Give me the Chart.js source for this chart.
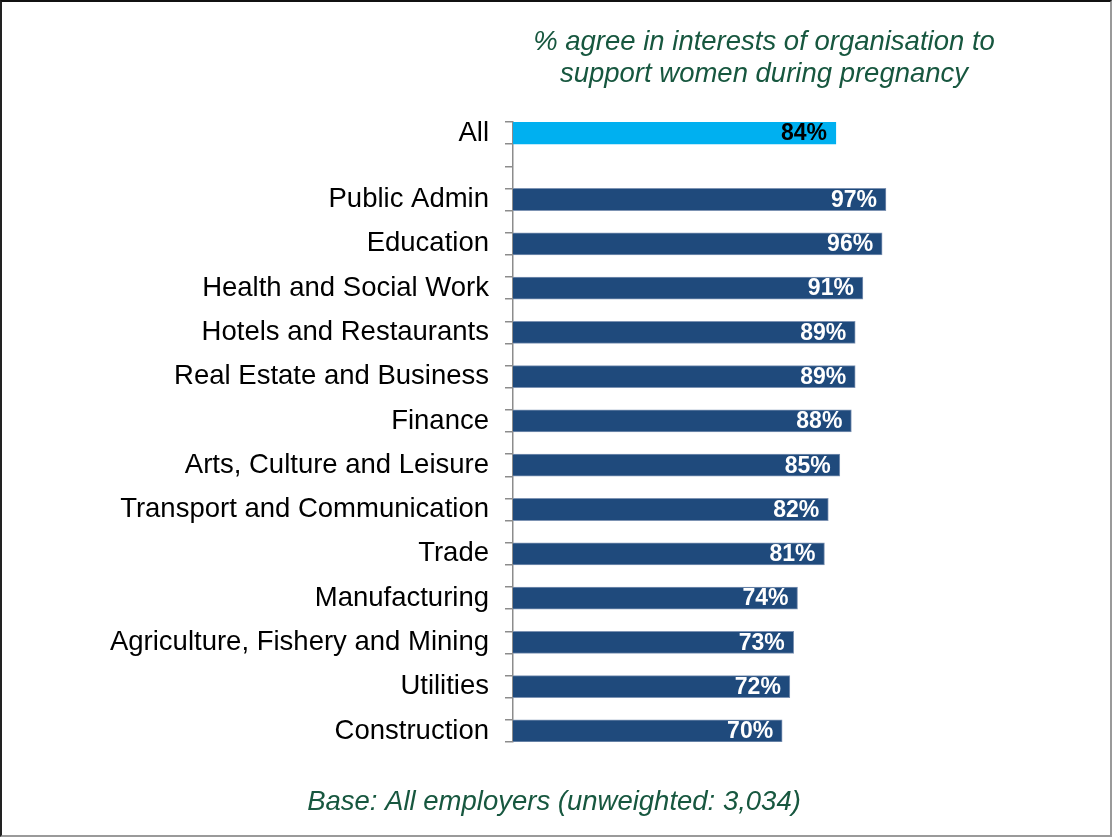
<!DOCTYPE html>
<html>
<head>
<meta charset="utf-8">
<script src="https://cdn.jsdelivr.net/npm/chart.js@4.4.1/dist/chart.umd.min.js"></script>
<style>
html,body{margin:0;padding:0;background:#fff;}
#wrap{position:relative;width:1112px;height:837px;}
#c{position:absolute;left:0;top:0;}
#frame{position:absolute;left:0;top:0;width:1112px;height:837px;box-sizing:border-box;
  border-top:2px solid #111;border-left:2px solid #222;border-right:2px solid #9a9a9a;border-bottom:2px solid #9a9a9a;pointer-events:none;}
</style>
</head>
<body>
<div id="wrap"><canvas id="c" width="1112" height="837"></canvas><div id="frame"></div></div>
<script>
// ---- data ----
const categories = ['All', 'Public Admin', 'Education', 'Health and Social Work', 'Hotels and Restaurants',
  'Real Estate and Business', 'Finance', 'Arts, Culture and Leisure', 'Transport and Communication',
  'Trade', 'Manufacturing', 'Agriculture, Fishery and Mining', 'Utilities', 'Construction'];
const values = [84, 97, 96, 91, 89, 89, 88, 85, 82, 81, 74, 73, 72, 70];
const titleLines = ['% agree in interests of organisation to', 'support women during pregnancy'];
const footnote = 'Base: All employers (unweighted: 3,034)';

// ---- build slot table (blank spacer rows as in the original) ----
const labels = [];
const data = [];
categories.forEach((c, i) => {
  if (i === 1) { labels.push('', ''); data.push(null, null); }
  else if (i > 1) { labels.push(''); data.push(null); }
  labels.push(c); data.push(values[i]);
});
const fills = labels.map(l => l === 'All' ? '#00B0F0' : '#1F4A7C');
const borders = labels.map(l => l === 'All' ? '#00B0F0' : '#7D93B3');

const FONT = '"Liberation Sans", Arial, sans-serif';

const textPlugin = {
  id: 'textPlugin',
  afterDraw(chart) {
    const ctx = chart.ctx;
    ctx.save();
    ctx.fillStyle = '#17573F';
    ctx.font = 'italic 27.5px ' + FONT;
    ctx.textAlign = 'center';
    ctx.textBaseline = 'alphabetic';
    ctx.fillText(titleLines[0], 764, 50);
    ctx.fillText(titleLines[1], 764, 82);
    ctx.fillText(footnote, 554, 810);
    ctx.restore();
  }
};

const barLabels = {
  id: 'barLabels',
  afterDatasetsDraw(chart) {
    const ctx = chart.ctx;
    const meta = chart.getDatasetMeta(0);
    const ds = chart.data.datasets[0];
    ctx.save();
    ctx.font = 'bold 23px ' + FONT;
    ctx.textAlign = 'right';
    ctx.textBaseline = 'middle';
    meta.data.forEach((el, i) => {
      const v = ds.data[i];
      if (v == null) return;
      ctx.fillStyle = chart.data.labels[i] === 'All' ? '#000' : '#fff';
      ctx.fillText(v + '%', el.x - 9, el.y + 1);
    });
    ctx.restore();
  }
};

new Chart(document.getElementById('c'), {
  type: 'bar',
  data: {
    labels: labels,
    datasets: [{
      data: data,
      backgroundColor: fills,
      borderColor: borders,
      borderWidth: 1,
      barPercentage: 1,
      categoryPercentage: 1
    }]
  },
  options: {
    indexAxis: 'y',
    responsive: false,
    animation: false,
    events: [],
    layout: { padding: { left: 0, right: 214.5, top: 122, bottom: 95 } },
    plugins: { legend: { display: false }, tooltip: { enabled: false }, title: { display: false } },
    scales: {
      x: { type: 'linear', min: 0, max: 100, display: false },
      y: {
        type: 'category',
        offset: true,
        afterFit(scale) { scale.width = 513; },
        border: { display: true, color: '#8c8c8c', width: 1.5 },
        grid: { display: true, offset: true, drawOnChartArea: false, drawTicks: true, tickLength: 8, color: '#8c8c8c', lineWidth: 1.5 },
        ticks: { autoSkip: false, padding: 16, color: '#000', font: { family: FONT, size: 27.5 } }
      }
    }
  },
  plugins: [barLabels, textPlugin]
});
</script>
</body>
</html>
